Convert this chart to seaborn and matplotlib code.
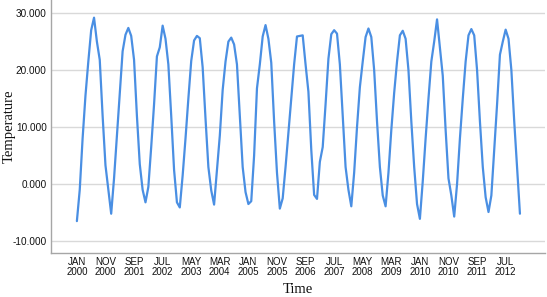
#!/usr/bin/env python3
"""Monthly temperature series, Jan 2000 - Dec 2012, SPSS-style line chart."""

import numpy as np
import pandas as pd
import matplotlib
matplotlib.use("Agg")
import matplotlib.pyplot as plt
import seaborn as sns

# Monthly values (Jan..Dec), one list per year
t2000 = [-6.5, -1.0, 8.0, 15.5, 21.5, 27.0, 29.2, 25.0, 21.8, 12.0, 3.3, -1.0]
t2001 = [-5.2, 1.0, 8.5, 16.0, 23.3, 26.2, 27.4, 26.0, 21.8, 12.0, 3.5, -1.0]
t2002 = [-3.2, -0.5, 6.5, 14.0, 22.4, 24.0, 27.8, 25.5, 21.0, 12.0, 2.5, -3.2]
t2003 = [-4.1, 1.5, 8.0, 15.0, 21.6, 25.2, 26.0, 25.6, 20.5, 11.5, 3.0, -1.1]
t2004 = [-3.6, 2.5, 8.5, 16.5, 21.5, 25.0, 25.7, 24.5, 21.0, 12.0, 3.0, -1.4]
t2005 = [-3.5, -3.0, 5.0, 16.8, 21.0, 25.9, 27.9, 25.5, 21.3, 11.0, 2.0, -4.3]
t2006 = [-2.5, 3.0, 9.0, 15.0, 21.0, 25.9, 26.0, 26.1, 21.0, 16.2, 6.0, -1.9]
t2007 = [-2.6, 3.9, 6.5, 14.0, 22.0, 26.3, 27.0, 26.4, 21.0, 12.0, 3.0, -1.0]
t2008 = [-3.9, 2.0, 10.0, 17.0, 21.5, 25.8, 27.3, 25.8, 20.0, 11.0, 3.0, -2.0]
t2009 = [-3.9, 2.0, 9.5, 16.0, 21.5, 26.1, 26.9, 25.5, 20.0, 11.0, 3.0, -3.5]
t2010 = [-6.1, 0.5, 8.0, 15.0, 21.5, 25.0, 28.9, 24.0, 19.0, 9.5, 1.0, -2.0]
t2011 = [-5.7, 0.0, 8.0, 15.0, 21.5, 26.1, 27.2, 26.1, 20.0, 11.0, 3.0, -2.3]
t2012 = [-4.9, -2.0, 6.0, 14.0, 22.7, 25.0, 27.1, 25.5, 20.0, 11.0, 3.0, -5.2]

years = [t2000, t2001, t2002, t2003, t2004, t2005, t2006,
         t2007, t2008, t2009, t2010, t2011, t2012]

y_ticks = [-10, 0, 10, 20, 30]
tick_every = 10  # months between x labels

LINE_COLOR = "#4a8fe3"
GRID_COLOR = "#d9d9d9"
SANS = ["Liberation Sans", "DejaVu Sans"]
SERIF = ["Liberation Serif", "DejaVu Serif"]


def main():
    temps = np.concatenate(years)
    months = pd.date_range("2000-01-01", periods=len(temps), freq="MS")
    df = pd.DataFrame({"idx": np.arange(len(temps)), "temp": temps})

    sns.set_theme(style="white")
    plt.rcParams["font.family"] = SANS

    fig = plt.figure(figsize=(5.47, 2.97), dpi=100)
    ax = fig.add_axes([0.093, 0.148, 0.903, 0.852])

    for y in y_ticks:
        ax.axhline(y, color=GRID_COLOR, linewidth=1.0, zorder=0)

    sns.lineplot(data=df, x="idx", y="temp", color=LINE_COLOR,
                 linewidth=1.6, ax=ax)

    ax.set_xlim(-9.1, 163.7)
    ax.set_ylim(-12.1, 32.3)

    tick_pos = df["idx"].values[::tick_every]
    tick_lab = [f"{m.strftime('%b').upper()}\n{m.year}" for m in months[::tick_every]]
    ax.set_xticks(tick_pos)
    ax.set_xticklabels(tick_lab, fontsize=7.0, linespacing=0.95, family=SANS)
    ax.set_yticks(y_ticks)
    ax.set_yticklabels([f"{v:.3f}" for v in y_ticks], fontsize=7.2, family=SANS)
    ax.tick_params(axis="both", length=0, pad=3, colors="#111111")

    for side in ["top", "right"]:
        ax.spines[side].set_visible(False)
    for side in ["left", "bottom"]:
        ax.spines[side].set_color("#a6a6a6")
        ax.spines[side].set_linewidth(1.0)

    ax.set_xlabel("Time", family=SERIF, fontsize=10.5, color="#111111")
    ax.set_ylabel("Temperature", family=SERIF, fontsize=10.5, color="#111111")
    ax.xaxis.set_label_coords(0.5, -0.12)
    ax.yaxis.set_label_coords(-0.071, 0.5)

    fig.savefig("out.png", dpi=100, facecolor="white")
    plt.close(fig)


if __name__ == "__main__":
    main()
